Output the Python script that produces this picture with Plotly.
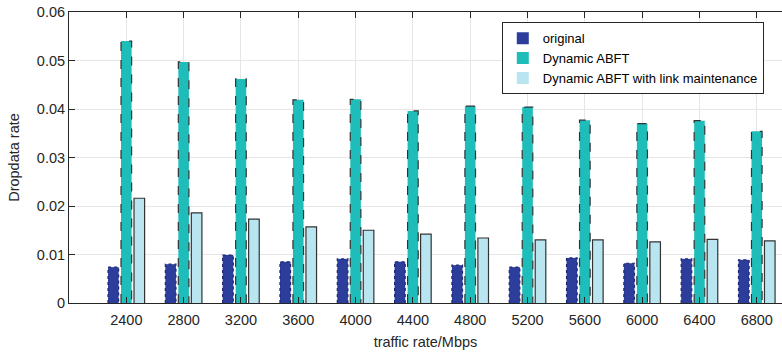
import plotly.graph_objects as go

categories = ["2400", "2800", "3200", "3600", "4000", "4400", "4800", "5200", "5600", "6000", "6400", "6800"]
original = [0.0074, 0.0080, 0.0099, 0.0085, 0.0091, 0.0085, 0.0078, 0.0074, 0.0093, 0.0082, 0.0091, 0.0089]
dynamic_abft = [0.0540, 0.0497, 0.0462, 0.0419, 0.0420, 0.0396, 0.0406, 0.0404, 0.0377, 0.0370, 0.0376, 0.0354]
link_maint = [0.0216, 0.0186, 0.0173, 0.0157, 0.0150, 0.0142, 0.0134, 0.0130, 0.0130, 0.0126, 0.0131, 0.0128]
y_ticks = [0, 0.01, 0.02, 0.03, 0.04, 0.05, 0.06]
y_ticktext = ["0", "0.01", "0.02", "0.03", "0.04", "0.05", "0.06"]

idx = list(range(1, len(categories) + 1))
OFF = 0.2266
W = 0.185

series = [
    ("original", original, -OFF, "#2c3d9c", "#1b2670", "dot"),
    ("Dynamic ABFT", dynamic_abft, 0.0, "#1fbdba", "#333333", "dash"),
    ("Dynamic ABFT with link maintenance", link_maint, OFF, "#b9e5f1", "#333333", "solid"),
]

fig = go.Figure()
for name, vals, off, fill, edge, dash in series:
    xs = [i + off for i in idx]
    fig.add_trace(go.Bar(
        x=xs, y=vals, width=W, name=name,
        marker=dict(color=fill, line=dict(width=0)),
    ))
for name, vals, off, fill, edge, dash in series:
    ox, oy = [], []
    for i, v in zip(idx, vals):
        c = i + off
        ox += [c - W / 2, c - W / 2, c + W / 2, c + W / 2, None]
        oy += [0, v, v, 0, None]
    fig.add_trace(go.Scatter(
        x=ox, y=oy, mode="lines", showlegend=False, hoverinfo="skip",
        line=dict(color=edge, width=1.2, dash=dash),
    ))

fig.update_layout(
    width=782, height=353,
    margin=dict(l=69, r=0, t=12, b=50, autoexpand=False),
    paper_bgcolor="white", plot_bgcolor="white",
    barmode="overlay",
    font=dict(family="Liberation Sans, Arial, sans-serif", size=14.5, color="#262626"),
    showlegend=True,
    legend=dict(
        x=0.607, y=0.965, xanchor="left", yanchor="top",
        bgcolor="white", bordercolor="#262626", borderwidth=1,
        font=dict(size=13, color="#000000"),
        tracegroupgap=0, itemsizing="constant",
    ),
)
fig.update_xaxes(
    range=[0, 12.44], tickvals=idx, ticktext=categories, automargin=False,
    showgrid=True, gridcolor="#e6e6e6", gridwidth=1,
    showline=True, linecolor="#262626", linewidth=1, mirror="ticks",
    ticks="inside", ticklen=6, tickcolor="#262626",
    ticklabelstandoff=4,
    zeroline=False,
    title=dict(text="traffic rate/Mbps", font=dict(size=14.5), standoff=9),
)
fig.update_yaxes(
    range=[0, 0.06], tickvals=y_ticks, ticktext=y_ticktext, automargin=False,
    showgrid=True, gridcolor="#e6e6e6", gridwidth=1,
    showline=True, linecolor="#262626", linewidth=1,
    ticks="inside", ticklen=6, tickcolor="#262626",
    zeroline=False,
    title=dict(text="Dropdata rate", font=dict(size=14.5), standoff=13),
)
fig.write_html(
    "out.html",
    config={"displayModeBar": False},
    post_script="document.body.style.margin='0';document.body.style.overflow='hidden';",
)
